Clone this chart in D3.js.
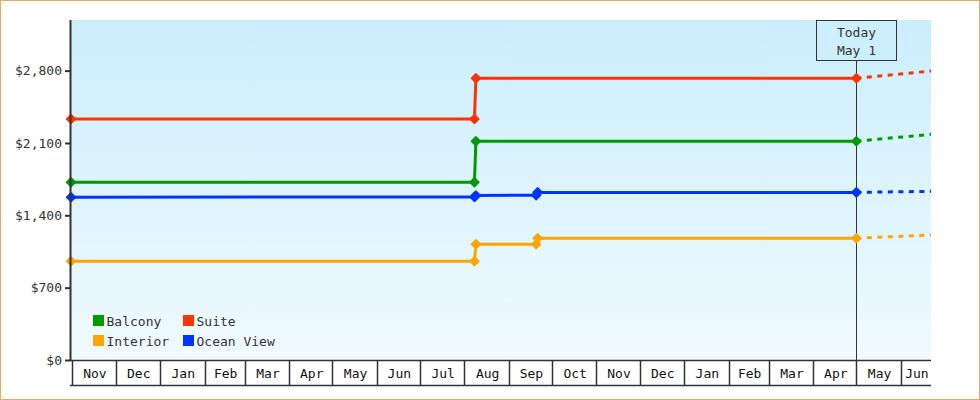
<!DOCTYPE html>
<html>
<head>
<meta charset="utf-8">
<script src="https://cdn.jsdelivr.net/npm/d3@7"></script>
<style>
  html, body { margin: 0; padding: 0; background: #fff; }
  svg { display: block; }
  text { font-family: "DejaVu Sans Mono", "Liberation Mono", monospace; font-size: 13px; }
</style>
</head>
<body>
<svg id="chart" width="980" height="400"></svg>
<script>
// ---- data ----
const categories = ["Balcony", "Interior", "Suite", "Ocean View"];
const colors = ["#009900", "#ffa500", "#ff3300", "#0033ff"];
const dates = ["2017-10-31", "2018-08-08", "2018-08-09", "2018-09-20", "2018-09-21", "2019-05-01"];
const projectionDate = "2019-06-22";
const balcony   = [1720, 1720, 2117, null, null, 2117];
const interior  = [955, 955, 1120, 1120, 1178, 1178];
const suite     = [2332, 2332, 2726, null, null, 2726];
const oceanView = [1575, 1578, 1592, 1595, 1622, 1622];
const projection = [2184, 1210, 2797, 1632];
const yTicks = [0, 700, 1400, 2100, 2800];
const todayLabel = ["Today", "May 1"];
const todayDate = "2019-05-01";
const monthStarts = ["2017-11-01","2017-12-01","2018-01-01","2018-02-01","2018-03-01","2018-04-01",
  "2018-05-01","2018-06-01","2018-07-01","2018-08-01","2018-09-01","2018-10-01","2018-11-01",
  "2018-12-01","2019-01-01","2019-02-01","2019-03-01","2019-04-01","2019-05-01","2019-06-01"];
const monthLabels = ["Nov","Dec","Jan","Feb","Mar","Apr","May","Jun","Jul","Aug","Sep","Oct",
  "Nov","Dec","Jan","Feb","Mar","Apr","May","Jun"];
const seriesValues = [balcony, interior, suite, oceanView];

// ---- layout ----
const parse = d3.utcParse("%Y-%m-%d");
const L = 71, R = 931, T = 20, B = 360;
const svg = d3.select("#chart");

const x = d3.scaleUtc().domain([parse(dates[0]), parse(projectionDate)]).range([L, R]);
const y = d3.scaleLinear().domain([0, 3290]).range([B, T]);

// frame
svg.append("rect").attr("x", 0.5).attr("y", 0.5).attr("width", 979).attr("height", 399)
  .attr("fill", "#fff").attr("stroke", "#e8aa66").attr("stroke-width", 1);

// gradient background
const defs = svg.append("defs");
const grad = defs.append("linearGradient").attr("id", "bg").attr("x1", 0).attr("y1", 0).attr("x2", 0).attr("y2", 1);
grad.append("stop").attr("offset", "0%").attr("stop-color", "#cbeefc");
grad.append("stop").attr("offset", "100%").attr("stop-color", "#f0faff");
svg.append("rect").attr("x", L).attr("y", T).attr("width", R - L).attr("height", B - T).attr("fill", "url(#bg)");

// today line + box
const tx = Math.round(x(parse(todayDate))) + 0.5;
svg.append("line").attr("x1", tx).attr("x2", tx).attr("y1", 60).attr("y2", B)
  .attr("stroke", "#333").attr("stroke-width", 1);
svg.append("rect").attr("x", tx - 40).attr("y", T + 0.5).attr("width", 80).attr("height", 40)
  .attr("fill", "#cdeffc").attr("stroke", "#333").attr("stroke-width", 1);
svg.append("text").attr("x", tx).attr("y", 37).attr("text-anchor", "middle").attr("fill", "#333").text(todayLabel[0]);
svg.append("text").attr("x", tx).attr("y", 55).attr("text-anchor", "middle").attr("fill", "#333").text(todayLabel[1]);

// series
const order = [1, 3, 0, 2];
const marker = d3.symbol().type(d3.symbolSquare).size(40);
order.forEach(i => {
  const pts = dates.map((d, j) => ({ date: parse(d), v: seriesValues[i][j] })).filter(p => p.v != null);
  const line = d3.line().x(p => x(p.date)).y(p => y(p.v));
  svg.append("path").attr("d", line(pts)).attr("fill", "none")
    .attr("stroke", colors[i]).attr("stroke-width", 3).attr("stroke-linejoin", "round");
  const last = pts[pts.length - 1];
  const proj = [last, { date: parse(projectionDate), v: projection[i] }];
  svg.append("path").attr("d", line(proj)).attr("fill", "none")
    .attr("stroke", colors[i]).attr("stroke-width", 3).attr("stroke-dasharray", "5,5.5");
  svg.selectAll(null).data(pts).enter().append("path")
    .attr("transform", p => `translate(${x(p.date)},${y(p.v)}) rotate(45)`)
    .attr("d", marker)
    .attr("fill", colors[i]).attr("stroke", colors[i]).attr("stroke-width", 1.5)
    .attr("stroke-linejoin", "round");
});

// y axis
const yAxis = d3.axisLeft(y).tickValues(yTicks).tickSize(6).tickPadding(3)
  .tickFormat(d => "$" + d3.format(",")(d));
const ya = svg.append("g").attr("transform", `translate(${L},0)`).call(yAxis);
ya.select(".domain").remove();
ya.selectAll(".tick line").attr("stroke", "#333").attr("stroke-width", 2);
ya.selectAll(".tick text").attr("fill", "#333").style("font-size", "13px")
  .style("font-family", "'DejaVu Sans Mono', 'Liberation Mono', monospace");
svg.append("line").attr("x1", L - 0.5).attr("x2", L - 0.5).attr("y1", T).attr("y2", B + 1)
  .attr("stroke", "#333").attr("stroke-width", 2);

// x axis month cells
const xg = svg.append("g");
xg.append("line").attr("x1", L - 1).attr("x2", R).attr("y1", B + 0.5).attr("y2", B + 0.5).attr("stroke", "#333").attr("stroke-width", 1.5);
xg.append("line").attr("x1", L - 1).attr("x2", R).attr("y1", 385.5).attr("y2", 385.5).attr("stroke", "#333").attr("stroke-width", 1.5);
monthStarts.forEach((m, i) => {
  const x0 = x(parse(m));
  const x1 = i < monthStarts.length - 1 ? Math.min(x(parse(monthStarts[i + 1])), R) : R;
  const sx = Math.round(x0) + 0.5;
  xg.append("line").attr("x1", sx).attr("x2", sx).attr("y1", B).attr("y2", 385.5)
    .attr("stroke", "#333").attr("stroke-width", 1.5);
  xg.append("text").attr("x", (x0 + x1) / 2 + 1).attr("y", 378).attr("text-anchor", "middle")
    .attr("fill", "#111").text(monthLabels[i]);
});

// legend
const legendPos = [[93, 315], [93, 335], [183, 315], [183, 335]];
categories.forEach((c, i) => {
  const [lx, ly] = legendPos[i];
  svg.append("rect").attr("x", lx).attr("y", ly).attr("width", 11).attr("height", 11).attr("fill", colors[i]);
  svg.append("text").attr("x", lx + 13.5).attr("y", ly + 10.5).attr("fill", "#333").text(c);
});
</script>
</body>
</html>
